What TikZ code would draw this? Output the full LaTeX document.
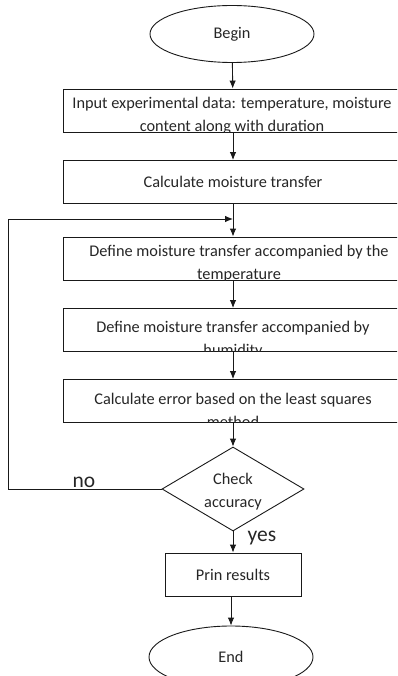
\documentclass[tikz,border=0pt]{standalone}
\usepackage{fontspec}
\setmainfont{Carlito}
\usetikzlibrary{arrows.meta, shapes.geometric}

\tikzset{
  proc/.style={draw, rectangle, minimum width=340pt, minimum height=43pt, inner sep=0pt},
  term/.style={draw, ellipse, minimum width=164pt, inner sep=0pt},
  txt/.style={align=center, inner sep=0pt},
  lbl/.style={inner sep=0pt, font=\fontsize{21.5}{26}\selectfont}
}

\begin{document}
\begin{tikzpicture}[x=1pt, y=-1pt, >={Latex[length=8pt,width=6.5pt]}, line width=0.9pt, draw=black!90, text=black!85, font=\fontsize{16.3}{23}\selectfont]

\clip (0,0) rectangle (397,676);

\node[term, minimum height=57pt] (begin) at (232,34) {Begin};

\node[proc] (input) at (233,110.5) {};
\begin{scope}
\clip (input.north west) rectangle (input.south east);
\node[txt] (inputtxt) at (232,115.5) {Input experimental data: temperature, moisture\\content along with duration};
\end{scope}

\node[proc] (calc) at (233,182) {Calculate moisture transfer};

\node[proc] (deftemp) at (233,258.5) {};
\begin{scope}
\clip (deftemp.north west) rectangle (deftemp.south east);
\node[txt] (deftemptxt) at (239,263.5) {Define moisture transfer accompanied by the\\temperature};
\end{scope}

\node[proc] (defhum) at (233,330) {};
\begin{scope}
\clip (defhum.north west) rectangle (defhum.south east);
\node[txt] (defhumtxt) at (233,340) {Define moisture transfer accompanied by\\humidity};
\end{scope}

\node[proc] (err) at (233,401) {};
\begin{scope}
\clip (err.north west) rectangle (err.south east);
\node[txt] (errtxt) at (233,410) {Calculate error based on the least squares\\method};
\end{scope}

\node[draw, diamond, aspect=1.69, minimum width=142pt, minimum height=84pt, inner sep=0pt] (check) at (233,489) {};
\node[txt] (checktxt) at (233,492) {Check\\accuracy};

\node[draw, rectangle, minimum width=136pt, minimum height=43pt, inner sep=0pt] (prin) at (233,574.5) {Prin results};

\node[term, minimum height=62pt] (finish) at (231,657) {End};

\node[lbl] (no) at (84,482) {no};
\node[lbl] (yes) at (262,538) {yes};

\coordinate (loopin) at (233,219);

\draw[->] (begin) -- (input);
\draw[->] (input) -- (calc);
\draw[->] (calc) -- (deftemp);
\draw[->] (deftemp) -- (defhum);
\draw[->] (defhum) -- (err);
\draw[->] (err) -- (check);
\draw[->] (check) -- (prin);
\draw[->] (prin.south -| finish) -- (finish);
\draw[->] (check.west) -- (8,489) |- (loopin);

\end{tikzpicture}
\end{document}
